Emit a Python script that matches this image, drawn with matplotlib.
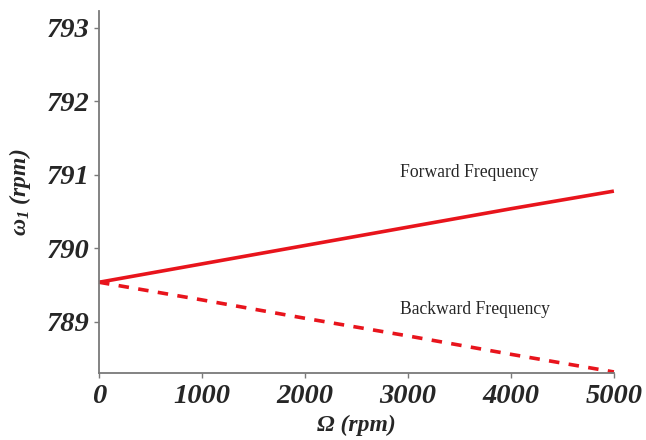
import matplotlib
matplotlib.use("Agg")
import matplotlib.pyplot as plt

# Rotor speed and first natural frequency (rpm)
speed = [0, 1000, 2000, 3000, 4000, 5000]
forward = [789.54, 789.79, 790.04, 790.29, 790.54, 790.78]
backward = [789.54, 789.30, 789.05, 788.81, 788.56, 788.32]
xticks = [0, 1000, 2000, 3000, 4000, 5000]
yticks = [789, 790, 791, 792, 793]

serif = ["Liberation Serif", "DejaVu Serif"]
plt.rcParams["mathtext.fontset"] = "custom"
plt.rcParams["mathtext.it"] = "Liberation Serif:italic:bold"
plt.rcParams["mathtext.rm"] = "Liberation Serif:italic:bold"
plt.rcParams["mathtext.bf"] = "Liberation Serif:italic:bold"

red = "#e8141c"
grey = "#7a7a7a"
ink = "#262626"

fig = plt.figure(figsize=(6.46, 4.40), dpi=100)
ax = fig.add_axes([0.1533, 0.153, 0.797, 0.822])

ax.plot(speed, forward, color=red, lw=2.6, solid_capstyle="butt", clip_on=False)
ax.plot(speed, backward, color=red, lw=2.6, ls=(0, (2.9, 2.6)), clip_on=False)

ax.set_xlim(0, 5000)
ax.set_ylim(788.31, 793.23)
ax.set_xticks(xticks)
ax.set_yticks(yticks)

for s in ("top", "right"):
    ax.spines[s].set_visible(False)
for s in ("left", "bottom"):
    ax.spines[s].set_color(grey)
    ax.spines[s].set_linewidth(1.3)

ax.tick_params(direction="out", length=3.5, width=1, color=grey, pad=3,
               labelsize=20.5, labelcolor=ink)
ax.tick_params(axis="x", pad=5)
for lab in ax.get_xticklabels() + ax.get_yticklabels():
    lab.set_fontfamily(serif)
    lab.set_fontstyle("italic")
    lab.set_fontweight("bold")

ax.set_xlabel("Ω (rpm)", fontsize=17, fontfamily=serif, fontstyle="italic",
              fontweight="bold", color=ink, labelpad=4)
ax.set_ylabel(r"$\omega_{1}$ (rpm)", fontsize=17, fontfamily=serif,
              fontstyle="italic", fontweight="bold", color=ink, labelpad=10)

ax.text(3600, 791.03, "Forward Frequency", fontsize=12.7, fontfamily=serif,
        color=ink, ha="center", va="center")
ax.text(3650, 789.17, "Backward Frequency", fontsize=12.7, fontfamily=serif,
        color=ink, ha="center", va="center")

fig.savefig("out.png", dpi=100)
